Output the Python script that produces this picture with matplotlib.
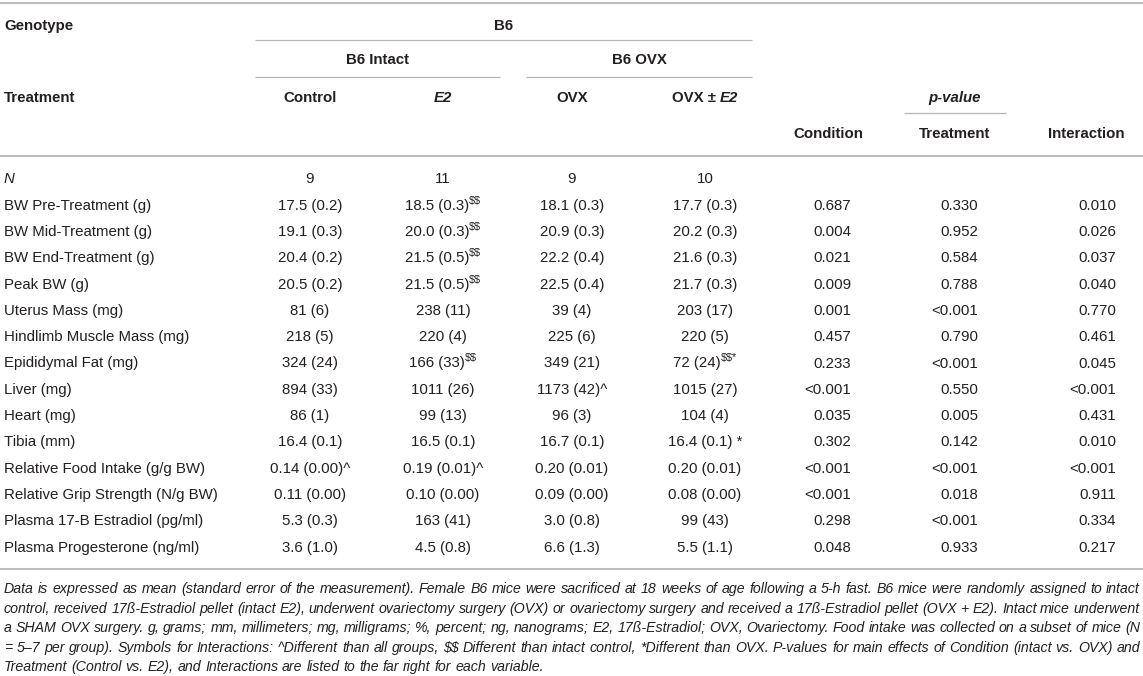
import matplotlib
matplotlib.use("Agg")
import matplotlib.pyplot as plt

# table content
row_labels = ["N", "BW Pre-Treatment (g)", "BW Mid-Treatment (g)", "BW End-Treatment (g)",
              "Peak BW (g)", "Uterus Mass (mg)", "Hindlimb Muscle Mass (mg)",
              "Epididymal Fat (mg)", "Liver (mg)", "Heart (mg)", "Tibia (mm)",
              "Relative Food Intake (g/g BW)", "Relative Grip Strength (N/g BW)",
              "Plasma 17-B Estradiol (pg/ml)", "Plasma Progesterone (ng/ml)"]
control = ["9", "17.5 (0.2)", "19.1 (0.3)", "20.4 (0.2)", "20.5 (0.2)", "81 (6)", "218 (5)",
           "324 (24)", "894 (33)", "86 (1)", "16.4 (0.1)", "0.14 (0.00)^", "0.11 (0.00)",
           "5.3 (0.3)", "3.6 (1.0)"]
e2 = ["11", "18.5 (0.3)", "20.0 (0.3)", "21.5 (0.5)", "21.5 (0.5)", "238 (11)", "220 (4)",
      "166 (33)", "1011 (26)", "99 (13)", "16.5 (0.1)", "0.19 (0.01)^", "0.10 (0.00)",
      "163 (41)", "4.5 (0.8)"]
e2_sup = ["", "$$", "$$", "$$", "$$", "", "", "$$", "", "", "", "", "", "", ""]
ovx = ["9", "18.1 (0.3)", "20.9 (0.3)", "22.2 (0.4)", "22.5 (0.4)", "39 (4)", "225 (6)",
       "349 (21)", "1173 (42)^", "96 (3)", "16.7 (0.1)", "0.20 (0.01)", "0.09 (0.00)",
       "3.0 (0.8)", "6.6 (1.3)"]
ovx_e2 = ["10", "17.7 (0.3)", "20.2 (0.3)", "21.6 (0.3)", "21.7 (0.3)", "203 (17)", "220 (5)",
          "72 (24)", "1015 (27)", "104 (4)", "16.4 (0.1) *", "0.20 (0.01)", "0.08 (0.00)",
          "99 (43)", "5.5 (1.1)"]
ovx_e2_sup = ["", "", "", "", "", "", "", "$$*", "", "", "", "", "", "", ""]
p_condition = ["", "0.687", "0.004", "0.021", "0.009", "0.001", "0.457", "0.233", "<0.001",
               "0.035", "0.302", "<0.001", "<0.001", "0.298", "0.048"]
p_treatment = ["", "0.330", "0.952", "0.584", "0.788", "<0.001", "0.790", "<0.001", "0.550",
               "0.005", "0.142", "<0.001", "0.018", "<0.001", "0.933"]
p_interaction = ["", "0.010", "0.026", "0.037", "0.040", "0.770", "0.461", "0.045", "<0.001",
                 "0.431", "0.010", "<0.001", "0.911", "0.334", "0.217"]

footnote = [
    "Data is expressed as mean (standard error of the measurement). Female B6 mice were sacrificed at 18 weeks of age following a 5-h fast. B6 mice were randomly assigned to intact",
    "control, received 17ß-Estradiol pellet (intact E2), underwent ovariectomy surgery (OVX) or ovariectomy surgery and received a 17ß-Estradiol pellet (OVX + E2). Intact mice underwent",
    "a SHAM OVX surgery. g, grams; mm, millimeters; mg, milligrams; %, percent; ng, nanograms; E2, 17ß-Estradiol; OVX, Ovariectomy. Food intake was collected on a subset of mice (N",
    "= 5\u20137 per group). Symbols for Interactions: ^Different than all groups, $$ Different than intact control, *Different than OVX. P-values for main effects of Condition (intact vs. OVX) and",
    "Treatment (Control vs. E2), and Interactions are listed to the far right for each variable.",
]

W, H = 1143, 676
ink = "#231f20"
rule = "#bdbdbd"
fs = 10.8
fs_sup = 7.8

plt.rcParams["font.family"] = ["Liberation Sans", "DejaVu Sans"]
fig = plt.figure(figsize=(W / 100, H / 100), dpi=100)
ax = fig.add_axes([0, 0, 1, 1])
ax.set_xlim(0, W)
ax.set_ylim(H, 0)
ax.axis("off")
renderer = fig.canvas.get_renderer()


def draw_runs(x, yc, runs, ha="center", size=fs):
    # runs: list of (string, kwargs) ; yc is visual centre of the line
    base = yc + 0.36 * size / 0.72
    texts = []
    for s, kw in runs:
        kw = dict(kw)
        sup = kw.pop("sup", False)
        gap = kw.pop("gap", 0)
        if sup:
            t = ax.text(0, base - 6, s, fontsize=fs_sup, color=ink, va="baseline",
                        parse_math=False, **kw)
        else:
            t = ax.text(0, base, s, fontsize=size, color=ink, va="baseline",
                        parse_math=False, **kw)
        texts.append((t, gap))
    widths = [t.get_window_extent(renderer).width + g for t, g in texts]
    total = sum(widths)
    if ha == "center":
        cur = x - total / 2
    elif ha == "right":
        cur = x - total
    else:
        cur = x
    for (t, g), w in zip(texts, widths):
        t.set_x(cur + g)
        cur += w


def hline(y, x0, x1, lw=1.5, color=rule):
    ax.plot([x0, x1], [y, y], color=color, lw=lw, solid_capstyle="butt")


B = {"fontweight": "bold"}
BI = {"fontweight": "bold", "fontstyle": "italic"}

# rules
hline(3, 0, W)
hline(40, 255, 752, lw=0.9, color="#b5b5b5")
hline(77, 255, 500, lw=0.9, color="#b5b5b5")
hline(77, 526, 752, lw=0.9, color="#b5b5b5")
hline(113, 904, 1006, lw=0.9, color="#b5b5b5")
hline(156, 0, W)
hline(569, 0, W)

# header
draw_runs(4, 25, [("Genotype", B)], ha="left")
draw_runs(504, 25, [("B6", B)])
draw_runs(377, 59, [("B6 Intact", B)])
draw_runs(639, 59, [("B6 OVX", B)])
draw_runs(4, 97, [("Treatment", B)], ha="left")
draw_runs(310, 97, [("Control", B)])
draw_runs(443, 97, [("E2", BI)])
draw_runs(572, 97, [("OVX", B)])
draw_runs(705, 97, [("OVX \u00b1", B), ("E2", dict(BI, gap=4))])
draw_runs(955, 97, [("p-value", BI)])
draw_runs(828, 133, [("Condition", B)])
draw_runs(955, 133, [("Treatment", B)])
draw_runs(1086, 133, [("Interaction", B)])

# body
col_x = [310, 443, 572, 705]
y0, dy = 178, 26.3
for i, label in enumerate(row_labels):
    y = y0 + i * dy
    draw_runs(4, y, [(label, {"fontstyle": "italic"} if label == "N" else {})], ha="left")
    cells = [(control[i], ""), (e2[i], e2_sup[i]), (ovx[i], ""), (ovx_e2[i], ovx_e2_sup[i])]
    for x, (val, sup) in zip(col_x, cells):
        runs = [(val, {})]
        if sup:
            runs.append((sup, {"sup": True}))
        draw_runs(x, y, runs)
    for x, val in zip([851, 978, 1116], [p_condition[i], p_treatment[i], p_interaction[i]]):
        if val:
            draw_runs(x, y, [(val, {})], ha="right")

# footnote, justified like the printed table; size picked so the longest line fills the width
left, right = 4, 1140
probe = ax.text(0, 0, max(footnote, key=len), fontsize=10, fontstyle="italic", parse_math=False)
fs_note = 10 * (right - left - 6) / probe.get_window_extent(renderer).width
probe.remove()
for k, line in enumerate(footnote):
    yb = 588 + k * 19.5 + 0.36 * fs_note / 0.72
    words = line.split(" ")
    texts = [ax.text(0, yb, w, fontsize=fs_note, fontstyle="italic", color=ink,
                     va="baseline", parse_math=False) for w in words]
    widths = [t.get_window_extent(renderer).width for t in texts]
    if k < len(footnote) - 1:
        gap = (right - left - sum(widths)) / (len(words) - 1)
    else:
        gap = 0.28 * fs_note / 0.72
    cur = left
    for t, w in zip(texts, widths):
        t.set_x(cur)
        cur += w + gap

fig.savefig("out.png", dpi=100)
